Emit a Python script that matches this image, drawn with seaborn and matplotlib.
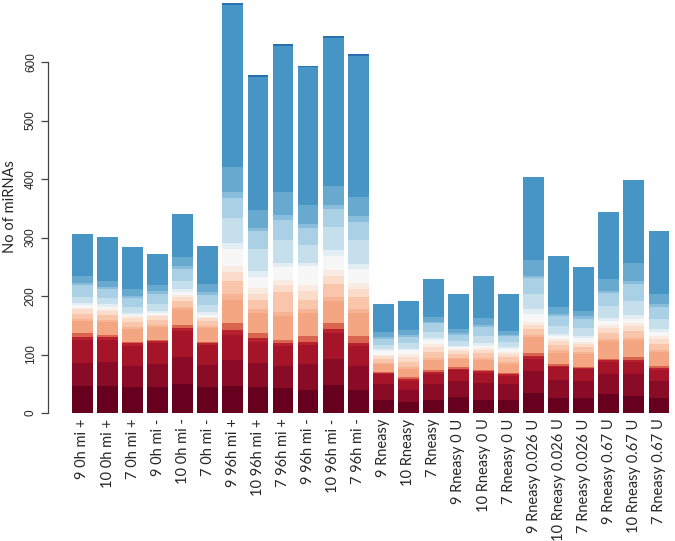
import numpy as np
import matplotlib
matplotlib.use("Agg")
import matplotlib.pyplot as plt
import pandas as pd
import seaborn as sns

# sample labels
samples = ["9 0h mi +", "10 0h mi +", "7 0h mi +", "9 0h mi -", "10 0h mi -", "7 0h mi -",
           "9 96h mi +", "10 96h mi +", "7 96h mi +", "9 96h mi -", "10 96h mi -", "7 96h mi -",
           "9 Rneasy", "10 Rneasy", "7 Rneasy", "9 Rneasy 0 U", "10 Rneasy 0 U", "7 Rneasy 0 U",
           "9 Rneasy 0.026 U", "10 Rneasy 0.026 U", "7 Rneasy 0.026 U",
           "9 Rneasy 0.67 U", "10 Rneasy 0.67 U", "7 Rneasy 0.67 U"]

# counts per colour band, bottom (dark red) to top (blue)
c00 = [47, 47, 44, 44, 50, 44, 47, 44, 43, 40, 48, 40, 22, 18, 22, 28, 22, 22, 35, 26, 25, 32, 29, 25]
c01 = [39, 40, 37, 40, 46, 38, 44, 41, 37, 43, 44, 41, 27, 22, 27, 27, 30, 27, 36, 30, 30, 34, 38, 29]
c02 = [38, 38, 34, 36, 44, 34, 43, 37, 34, 33, 44, 33, 17, 15, 18, 19, 17, 15, 21, 22, 20, 21, 21, 20]
c03 = [6, 5, 4, 3, 6, 3, 8, 6, 5, 5, 8, 6, 2, 3, 3, 2, 2, 2, 5, 3, 2, 3, 3, 3]
c04 = [6, 4, 3, 2, 5, 3, 11, 8, 6, 10, 9, 11, 2, 3, 3, 2, 2, 3, 6, 3, 2, 3, 4, 3]
c05 = [22, 22, 22, 22, 26, 24, 41, 35, 41, 40, 38, 40, 13, 14, 17, 14, 18, 15, 27, 19, 22, 30, 30, 24]
c06 = [3, 3, 3, 3, 4, 3, 9, 7, 7, 6, 7, 6, 2, 3, 4, 2, 3, 3, 4, 4, 3, 4, 4, 4]
c07 = [9, 9, 9, 9, 10, 8, 22, 16, 34, 17, 22, 21, 7, 10, 10, 7, 8, 8, 10, 9, 8, 10, 11, 10]
c08 = [7, 7, 6, 6, 7, 5, 16, 10, 11, 14, 15, 14, 5, 8, 9, 5, 6, 6, 7, 7, 6, 8, 8, 8]
c09 = [3, 3, 3, 3, 3, 2, 11, 10, 9, 10, 10, 11, 3, 5, 5, 3, 3, 3, 5, 4, 4, 5, 5, 5]
c10 = [4, 4, 3, 3, 6, 4, 28, 19, 23, 33, 23, 23, 6, 6, 6, 3, 4, 6, 14, 4, 6, 7, 7, 7]
c11 = [4, 4, 3, 4, 5, 4, 10, 10, 6, 6, 10, 9, 3, 3, 4, 3, 4, 3, 7, 4, 4, 6, 7, 5]
c12 = [11, 10, 10, 12, 14, 12, 43, 37, 39, 31, 40, 41, 8, 9, 11, 8, 12, 8, 26, 14, 13, 20, 24, 18]
c13 = [19, 16, 15, 16, 20, 18, 35, 31, 35, 28, 31, 31, 10, 11, 14, 11, 16, 10, 27, 17, 16, 22, 29, 21]
c14 = [5, 4, 4, 5, 6, 5, 9, 5, 9, 7, 6, 10, 3, 4, 3, 3, 4, 3, 4, 4, 4, 4, 5, 4]
c15 = [12, 10, 12, 11, 14, 14, 44, 31, 38, 32, 33, 33, 8, 8, 8, 7, 11, 6, 27, 12, 10, 20, 31, 18]
c16 = [71, 75, 72, 53, 75, 65, 277, 228, 251, 236, 253, 240, 48, 49, 65, 59, 73, 64, 142, 87, 75, 115, 142, 107]
c17 = [0, 0, 0, 0, 0, 0, 3, 3, 3, 3, 3, 3, 0, 0, 0, 0, 0, 0, 0, 0, 0, 0, 0, 0]

bands = [c00, c01, c02, c03, c04, c05, c06, c07, c08, c09,
         c10, c11, c12, c13, c14, c15, c16, c17]
colors = ["#67001F", "#8A0B25", "#A51429", "#B8202E", "#D9654F", "#F4A582",
          "#F6B495", "#F9C6AC", "#FBDCCB", "#F9EAE2", "#F7F7F7", "#E2EEF4",
          "#C6DFEC", "#A9D0E5", "#88BEDC", "#67A9CF", "#4795C5", "#2A6FB0"]

sns.set_style("white")
plt.rcParams['font.family'] = ['Lato', 'DejaVu Sans']

fig = plt.figure(figsize=(6.75, 5.41), dpi=100)
ax = fig.add_axes([48 / 675, 128 / 541, 627 / 675, 413 / 541])

cum = np.cumsum(np.array(bands), axis=0)
# draw cumulative totals from the top band down so lower bands cover upper ones
for k in range(len(bands) - 1, -1, -1):
    df = pd.DataFrame({"sample": samples, "total": cum[k]})
    sns.barplot(data=df, x="sample", y="total", order=samples, color=colors[k],
                saturation=1, width=0.83, errorbar=None, linewidth=0, ax=ax)

ax.set_xlim(-1.376, 23.64)
ax.set_ylim(0, 706)
sns.despine(ax=ax, bottom=True)
ax.spines['left'].set_bounds(0, 600)
ax.spines['left'].set_color("#444444")
ax.spines['left'].set_linewidth(0.9)

ax.set_yticks(range(0, 601, 100))
ax.tick_params(axis='y', left=True, length=5, width=0.9, color="#444444",
               labelsize=8.5, pad=3)
for t in ax.get_yticklabels():
    t.set_rotation(90)
    t.set_va('center')
    t.set_family(['Liberation Sans', 'DejaVu Sans'])

ax.tick_params(axis='x', bottom=False, length=0, labelsize=10.5, pad=4)
ax.set_xticks(range(len(samples)))
ax.set_xticklabels(samples, rotation=90, va='top', ha='center')
ax.set_xlabel("")
ax.set_ylabel("No of miRNAs", fontsize=10.5, labelpad=6)

fig.savefig("out.png", dpi=100)
